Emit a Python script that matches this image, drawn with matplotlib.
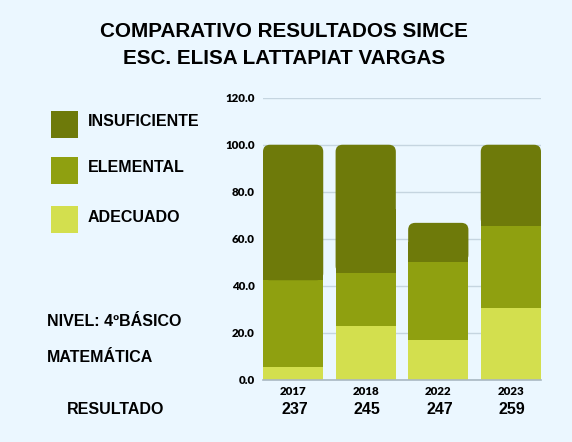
import matplotlib
matplotlib.use("Agg")
import matplotlib.pyplot as plt
from matplotlib.patches import FancyBboxPatch, Rectangle
import matplotlib.transforms as mtransforms
import numpy as np

years = ["2017", "2018", "2022", "2023"]
adecuado = [5.4, 22.8, 16.9, 30.5]
elemental = [37.0, 22.7, 33.3, 35.0]
insuficiente = [57.6, 54.5, 16.6, 34.5]
resultados = ["237", "245", "247", "259"]
series_names = ["INSUFICIENTE", "ELEMENTAL", "ADECUADO"]
yticks = [0, 20, 40, 60, 80, 100, 120]

BG = "#EBF7FF"
C_INS = "#6E7A0A"
C_ELE = "#8FA010"
C_ADE = "#D3DF4E"
colors = [C_INS, C_ELE, C_ADE]

W, H = 572, 442
fig = plt.figure(figsize=(W / 100, H / 100), dpi=100, facecolor=BG)
ax = fig.add_axes([263 / W, (H - 380) / H, 278 / W, 282.3 / H], facecolor=BG)

x = np.arange(len(years))
bw = 0.83
a = np.array(adecuado)
e = np.array(elemental)
i = np.array(insuficiente)
ax.bar(x, a, bw, color=C_ADE, zorder=3)
ax.bar(x, e, bw, bottom=a, color=C_ELE, zorder=3)
top_bars = ax.bar(x, i, bw, bottom=a + e, color=C_INS, zorder=3)

ax.set_xlim(-0.415, len(years) - 1 + 0.415)
ax.set_ylim(0, 120)

# rounded tops
rx = 7 / 72.0
ry = 7 / 2.35
for p in top_bars.patches:
    px, py, pw, ph = p.get_x(), p.get_y(), p.get_width(), p.get_height()
    p.set_visible(False)
    fb = FancyBboxPatch((px, py), pw, ph,
                        boxstyle=f"round,pad=0,rounding_size={rx}",
                        mutation_aspect=ry / rx, facecolor=C_INS,
                        edgecolor="none", zorder=3)
    ax.add_patch(fb)
    ax.add_patch(Rectangle((px, py), pw, ph / 2, facecolor=C_INS,
                           edgecolor="none", zorder=3))

ax.set_yticks(yticks)
ax.set_yticklabels([f"{v:.1f}" for v in yticks], fontfamily="Lato",
                   fontweight="heavy", fontsize=8.3)
ax.set_xticks(x)
ax.set_xticklabels(years, fontfamily="Lato", fontweight="heavy", fontsize=8.3)
ax.tick_params(axis="both", length=0)
ax.tick_params(axis="y", pad=6)
ax.tick_params(axis="x", pad=4)
ax.grid(axis="y", color="#C5D5E0", linewidth=1, zorder=0)
for s in ["top", "right", "left"]:
    ax.spines[s].set_visible(False)
ax.spines["bottom"].set_color("#A9B8C2")
ax.spines["bottom"].set_linewidth(1.2)
ax.spines["bottom"].set_zorder(4)

font = "Liberation Sans"
# title
fig.text(284 / W, 1 - 31.7 / H, "COMPARATIVO RESULTADOS SIMCE", ha="center",
         va="center", fontfamily=font, fontweight="bold", fontsize=14.9)
fig.text(284 / W, 1 - 59 / H, "ESC. ELISA LATTAPIAT VARGAS", ha="center",
         va="center", fontfamily=font, fontweight="bold", fontsize=14.9)

# legend
leg_y = [124.5, 170, 219.5]
for name, c, yy in zip(series_names, colors, leg_y):
    fig.patches.append(Rectangle((51 / W, 1 - (yy + 13.5) / H), 27 / W, 27 / H,
                                 transform=fig.transFigure, facecolor=c,
                                 edgecolor="none"))
    fig.text(88 / W, 1 - (yy - 2.5) / H, name, ha="left", va="center",
             fontfamily=font, fontweight="bold", fontsize=11.5)

fig.text(47 / W, 1 - 321.7 / H, "NIVEL: 4ºBÁSICO", ha="left", va="center",
         fontfamily=font, fontweight="bold", fontsize=11.5)
fig.text(47 / W, 1 - 358 / H, "MATEMÁTICA", ha="left", va="center",
         fontfamily=font, fontweight="bold", fontsize=11.5)
fig.text(66.7 / W, 1 - 409 / H, "RESULTADO", ha="left", va="center",
         fontfamily=font, fontweight="bold", fontsize=11.5)

trans = mtransforms.blended_transform_factory(ax.transData, fig.transFigure)
for xi, r in zip(x, resultados):
    fig.text(xi + 0.02, 1 - 409 / H, r, transform=trans, ha="center", va="center",
             fontfamily=font, fontweight="bold", fontsize=11.5)

fig.savefig("out.png", dpi=100, facecolor=BG)
